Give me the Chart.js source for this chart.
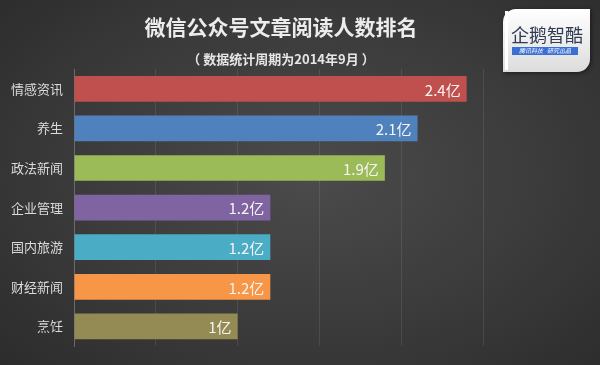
<!DOCTYPE html>
<html>
<head>
<meta charset="utf-8">
<script src="https://cdn.jsdelivr.net/npm/chart.js@4/dist/chart.umd.min.js"></script>
<style>
  html, body { margin: 0; padding: 0; }
  body {
    width: 600px; height: 365px; overflow: hidden;
    background: radial-gradient(ellipse 75% 80% at 52% 48%, #4b4b4b 0%, #3a3a3a 55%, #2a2a2a 100%);
  }
  #wrap { position: relative; width: 600px; height: 365px; }
</style>
</head>
<body>
<div id="wrap"><canvas id="myChart" width="600" height="365"></canvas></div>
<script>
var categories = ["情感资讯", "养生", "政法新闻", "企业管理", "国内旅游", "财经新闻", "烹饪"];
var readers = [2.4, 2.1, 1.9, 1.2, 1.2, 1.2, 1.0];
var valueLabels = ["2.4亿", "2.1亿", "1.9亿", "1.2亿", "1.2亿", "1.2亿", "1亿"];
var barColors = ["#c0504d", "#4f81bd", "#9bbb59", "#8064a2", "#4bacc6", "#f79646", "#948a54"];
var titleText = "微信公众号文章阅读人数排名";
var subtitleText = "（ 数据统计周期为2014年9月 ）";

var CJK = '"Noto Sans CJK SC", "Noto Sans", sans-serif';

// title, subtitle and the logo box
var headerPlugin = {
  id: "header",
  afterDraw: function(chart) {
    var ctx = chart.ctx;
    ctx.save();
    ctx.textAlign = "center";
    ctx.textBaseline = "middle";
    ctx.fillStyle = "#ececec";
    ctx.font = "bold 21px " + CJK;
    ctx.fillText(titleText, 281, 27);
    ctx.font = "bold 13px " + CJK;
    ctx.fillStyle = "#e6e6e6";
    ctx.fillText(subtitleText, 281, 59);

    // logo
    ctx.shadowColor = "rgba(0,0,0,0.5)";
    ctx.shadowBlur = 4;
    ctx.shadowOffsetX = 1;
    ctx.shadowOffsetY = 1;
    var g = ctx.createLinearGradient(0, 9, 0, 72);
    g.addColorStop(0, "#ffffff");
    g.addColorStop(1, "#dcdcdc");
    ctx.fillStyle = g;
    ctx.beginPath();
    ctx.roundRect(503, 9, 87, 63, [13, 0, 13, 0]);
    ctx.fill();
    ctx.shadowColor = "transparent";
    ctx.fillStyle = "#ffffff";
    ctx.fillRect(505, 11, 3, 59);
    ctx.fillStyle = "#2e3b52";
    ctx.font = "18px " + CJK;
    ctx.fillText("企鹅智酷", 547, 35);
    ctx.fillStyle = "#3a6fd3";
    ctx.fillRect(512, 47, 66, 8);
    ctx.fillStyle = "#ffffff";
    ctx.font = "italic 6px " + CJK;
    ctx.fillText("腾讯科技   研究出品", 545, 51);
    ctx.restore();
  }
};

// value labels inside bar ends
var valuePlugin = {
  id: "values",
  afterDatasetsDraw: function(chart) {
    var ctx = chart.ctx;
    var meta = chart.getDatasetMeta(0);
    ctx.save();
    ctx.fillStyle = "#f4f4f4";
    ctx.font = "15px " + CJK;
    ctx.textAlign = "right";
    ctx.textBaseline = "middle";
    for (var i = 0; i < meta.data.length; i++) {
      var bar = meta.data[i];
      ctx.fillText(valueLabels[i], bar.x - 6, bar.y + 1);
    }
    ctx.restore();
  }
};

var ctx = document.getElementById("myChart").getContext("2d");
var chart = new Chart(ctx, {
  type: "bar",
  data: {
    labels: categories,
    datasets: [{
      data: readers,
      backgroundColor: barColors,
      borderWidth: 0,
      barPercentage: 0.65,
      categoryPercentage: 1
    }]
  },
  options: {
    indexAxis: "y",
    responsive: false,
    animation: false,
    events: [],
    layout: { padding: { left: 0, right: 117, top: 69, bottom: 5 } },
    plugins: {
      legend: { display: false },
      tooltip: { enabled: false }
    },
    scales: {
      x: {
        min: 0,
        max: 2.5,
        ticks: { stepSize: 0.5, display: false },
        grid: { color: "rgba(255,255,255,0.09)", drawTicks: false },
        border: { display: false }
      },
      y: {
        afterFit: function(scale) { scale.width = 74; },
        ticks: { color: "#dadada", font: { size: 13, family: CJK }, padding: 11 },
        grid: { display: false, drawTicks: false },
        border: { display: true, color: "#6a6a6a", width: 1 }
      }
    }
  },
  plugins: [headerPlugin, valuePlugin]
});
</script>
</body>
</html>
